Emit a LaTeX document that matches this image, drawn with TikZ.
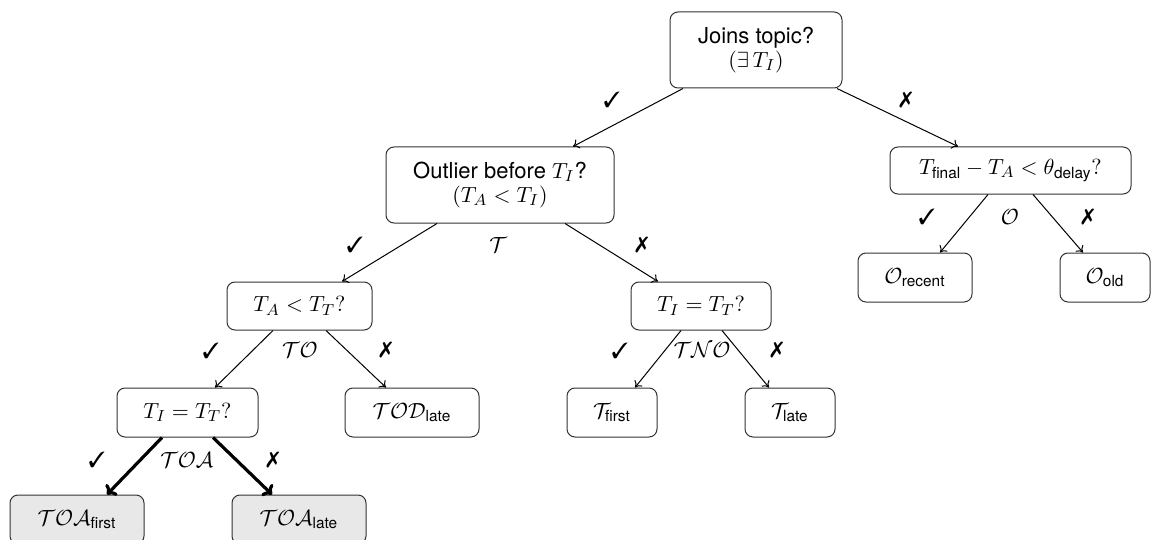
\documentclass[tikz,border=0pt]{standalone}
\usepackage{amsmath}
\usepackage{pifont}
\usepackage{fontspec}
\setmainfont{TeX Gyre Heros}
\usetikzlibrary{arrows.meta}
\newcommand{\yes}{\ding{51}}
\newcommand{\no}{\ding{55}}
\newcommand{\sub}[1]{\text{#1}}
\begin{document}
\begin{tikzpicture}[x=0.5pt,y=-0.5pt,
  font=\fontsize{11}{13}\selectfont,
  box/.style={draw=black!80, line width=0.5pt, rounded corners=4pt, align=center, inner sep=0pt},
  leafgray/.style={box, fill=black!9},
  edge/.style={draw=black, line width=0.5pt, -{To[length=3pt,width=5pt]}},
  thickedge/.style={draw=black, line width=1.6pt, -{To[length=4pt,width=8pt]}},
  lbl/.style={inner sep=0pt}]
\useasboundingbox (0,0) rectangle (1151,540);
\clip (0,0) rectangle (1151,540);

% nodes
\node[box, minimum width=86pt, minimum height=38pt] (root) at (756,50) {Joins topic?\\[-1pt]$(\exists\, T_I)$};
\node[box, minimum width=114pt, minimum height=38pt] (outl) at (500,185) {Outlier before $T_I$?\\[-1pt]$(T_A < T_I)$};
\node[box, minimum width=120.5pt, minimum height=23.5pt] (tfin) at (1010.5,170.5) {$T_{\sub{final}} - T_A < \theta_{\sub{delay}}?$};
\node[box, minimum width=57pt, minimum height=24.5pt] (orec) at (915,277.5) {$\mathcal{O}_{\sub{recent}}$};
\node[box, minimum width=45pt, minimum height=24.5pt] (oold) at (1105,277.5) {$\mathcal{O}_{\sub{old}}$};
\node[box, minimum width=72.5pt, minimum height=24pt] (ta) at (299.5,306) {$T_A < T_T?$};
\node[box, minimum width=70pt, minimum height=24pt] (mid) at (701,306) {$T_I = T_T?$};
\node[box, minimum width=70.5pt, minimum height=24.5pt] (lti) at (187.5,412.5) {$T_I = T_T?$};
\node[box, minimum width=67pt, minimum height=24.5pt] (tod) at (412,412.5) {$\mathcal{TOD}_{\sub{late}}$};
\node[box, minimum width=45pt, minimum height=24.5pt] (tfirst) at (612,412.5) {$\mathcal{T}_{\sub{first}}$};
\node[box, minimum width=45pt, minimum height=24.5pt] (tlate) at (790,412.5) {$\mathcal{T}_{\sub{late}}$};
\node[leafgray, minimum width=67pt, minimum height=24.5pt] (toaf) at (77,519.5) {$\mathcal{TOA}_{\sub{first}}$};
\node[leafgray, minimum width=67pt, minimum height=24.5pt] (toal) at (299,519.5) {$\mathcal{TOA}_{\sub{late}}$};

% edges
\draw[edge] ([xshift=-36.5pt]root.south) -- ([xshift=36.5pt]outl.north);
\draw[edge] ([xshift=40.5pt]root.south) -- ([xshift=-26.25pt]tfin.north);
\draw[edge] ([xshift=-31.5pt]outl.south) -- ([xshift=21.25pt]ta.north);
\draw[edge] ([xshift=32.5pt]outl.south) -- ([xshift=-21.5pt]mid.north);
\draw[edge] ([xshift=-13.25pt]ta.south) -- ([xshift=13.75pt]lti.north);
\draw[edge] ([xshift=13.25pt]ta.south) -- ([xshift=-13pt]tod.north);
\draw[edge] ([xshift=-10pt]mid.south) -- ([xshift=11.5pt]tfirst.north);
\draw[edge] ([xshift=10.5pt]mid.south) -- ([xshift=-10.5pt]tlate.north);
\draw[edge] ([xshift=-11.25pt]tfin.south) -- ([xshift=12.5pt]orec.north);
\draw[edge] ([xshift=11.25pt]tfin.south) -- ([xshift=-11pt]oold.north);
\draw[thickedge] ([xshift=-12.75pt]lti.south) -- ([xshift=15pt]toaf.north);
\draw[thickedge] ([xshift=12.75pt]lti.south) -- ([xshift=-13.5pt]toal.north);

% labels
\node[lbl] (l1) at (612,100) {\yes};
\node[lbl] (l2) at (906,100) {\no};
\node[lbl] (l3) at (355,245) {\yes};
\node[lbl] (l4) at (498,245) {$\mathcal{T}$};
\node[lbl] (l5) at (642,245) {\no};
\node[lbl] (l6) at (211,351) {\yes};
\node[lbl] (l7) at (300,350) {$\mathcal{TO}$};
\node[lbl] (l8) at (386,350) {\no};
\node[lbl] (l9) at (620,351) {\yes};
\node[lbl] (l10) at (702,350) {$\mathcal{TNO}$};
\node[lbl] (l11) at (777,350) {\no};
\node[lbl] (l12) at (927,217) {\yes};
\node[lbl] (l13) at (1010,217) {$\mathcal{O}$};
\node[lbl] (l14) at (1088,217) {\no};
\node[lbl] (l15) at (97,460) {\yes};
\node[lbl] (l16) at (187,460) {$\mathcal{TOA}$};
\node[lbl] (l17) at (273,460) {\no};
\end{tikzpicture}
\end{document}
